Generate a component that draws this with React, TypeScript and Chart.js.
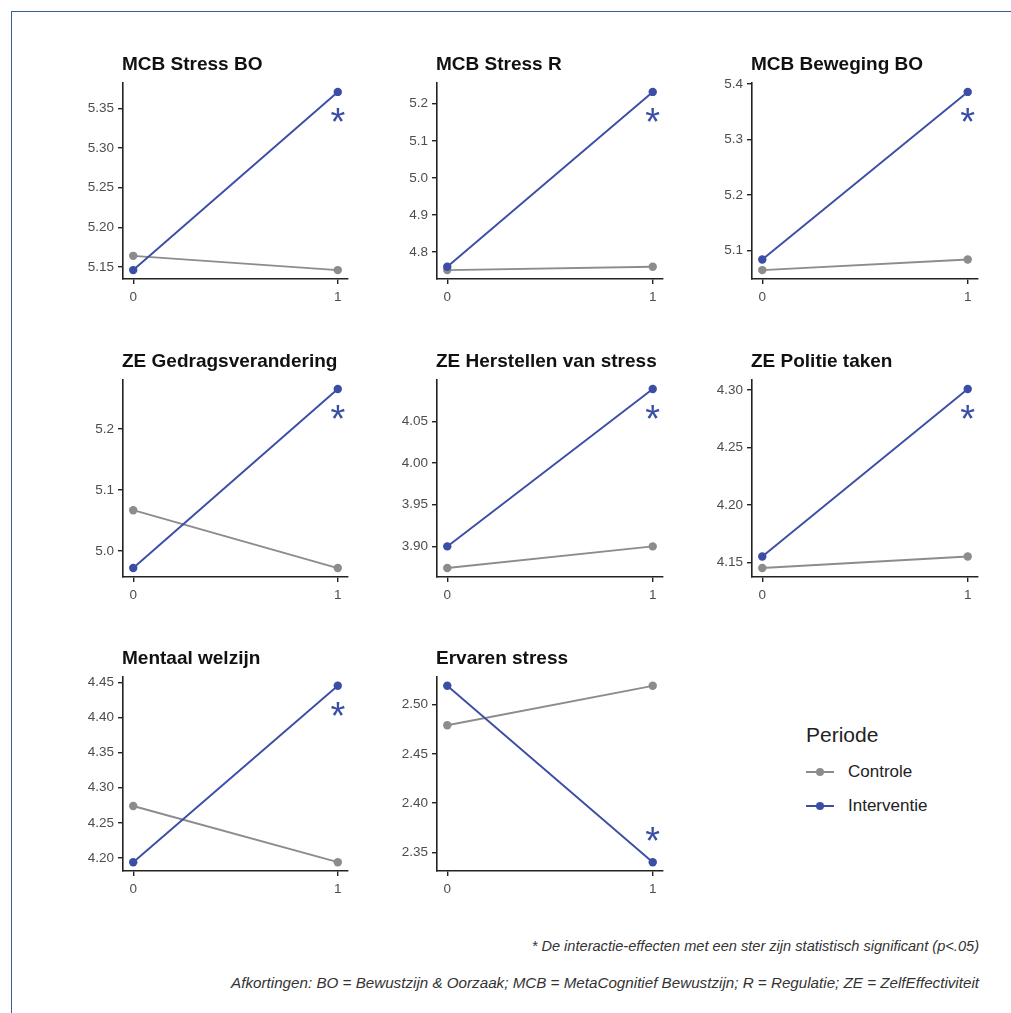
import React, { useEffect, useRef } from "react";
import { Chart, registerables } from "chart.js";

Chart.register(...registerables);

// ---------- data ----------
const panelTitles = [
  "MCB Stress BO",
  "MCB Stress R",
  "MCB Beweging BO",
  "ZE Gedragsverandering",
  "ZE Herstellen van stress",
  "ZE Politie taken",
  "Mentaal welzijn",
  "Ervaren stress",
];
const timePoints = [0, 1];
const controleValues = [
  [5.164, 5.146],
  [4.751, 4.76],
  [5.065, 5.084],
  [5.067, 4.972],
  [3.874, 3.9],
  [4.145, 4.155],
  [4.274, 4.194],
  [2.479, 2.519],
];
const interventieValues = [
  [5.146, 5.371],
  [4.76, 5.232],
  [5.084, 5.386],
  [4.972, 5.266],
  [3.9, 4.089],
  [4.155, 4.301],
  [4.194, 4.445],
  [2.519, 2.34],
];
const yTickValues = [
  [5.15, 5.2, 5.25, 5.3, 5.35],
  [4.8, 4.9, 5.0, 5.1, 5.2],
  [5.1, 5.2, 5.3, 5.4],
  [5.0, 5.1, 5.2],
  [3.9, 3.95, 4.0, 4.05],
  [4.15, 4.2, 4.25, 4.3],
  [4.2, 4.25, 4.3, 4.35, 4.4, 4.45],
  [2.35, 2.4, 2.45, 2.5],
];
const yTickDecimals = [2, 1, 1, 1, 2, 2, 2, 2];
const significant = [true, true, true, true, true, true, true, true];
const starSide = ["below", "below", "below", "below", "below", "below", "below", "above"];
const seriesNames = ["Controle", "Interventie"];
const legendTitle = "Periode";
const footnotes = [
  "* De interactie-effecten met een ster zijn statistisch significant (p<.05)",
  "Afkortingen: BO = Bewustzijn & Oorzaak; MCB = MetaCognitief Bewustzijn; R = Regulatie; ZE = ZelfEffectiviteit",
];

// ---------- style / layout ----------
const FONT = '"Liberation Sans", Arial, Helvetica, sans-serif';
const GREY = "#8c8c8c";
const BLUE = "#3b4ea6";
const AXIS = "#222";
const TICK_TEXT = "#4d4d4d";
const colAxisX = [123, 437, 752];
const colPlotW = [225, 226, 226];
const rowAxisTop = [83, 380, 677];
const rowPlotH = [196, 197, 194];
const Y_AXIS_W = 60;
const RIGHT_PAD = 10;
const TITLE_SPACE = 45;
const X_AXIS_H = 30;

function Panel({ idx }: { idx: number }) {
  const ref = useRef<HTMLCanvasElement>(null);
  const row = Math.floor(idx / 3);
  const col = idx % 3;
  const w = Y_AXIS_W + colPlotW[col] + RIGHT_PAD;
  const h = TITLE_SPACE + rowPlotH[row] + X_AXIS_H;

  useEffect(() => {
    const all = [...controleValues[idx], ...interventieValues[idx]];
    const lo = Math.min(...all);
    const hi = Math.max(...all);
    const pad = (hi - lo) * 0.05;

    const decor = {
      id: "decor" + idx,
      afterDatasetsDraw(chart: any) {
        const { ctx, chartArea, scales } = chart;
        ctx.save();
        ctx.fillStyle = "#111";
        ctx.font = `bold 19px ${FONT}`;
        ctx.textAlign = "left";
        ctx.textBaseline = "alphabetic";
        ctx.fillText(panelTitles[idx], chartArea.left - 1, chartArea.top - 13);
        if (significant[idx]) {
          const x = scales.x.getPixelForValue(timePoints[1]);
          const py = scales.y.getPixelForValue(interventieValues[idx][1]);
          const target = starSide[idx] === "below" ? py + 23 : py - 28;
          ctx.font = `38px ${FONT}`;
          ctx.fillStyle = BLUE;
          ctx.textAlign = "center";
          const m = ctx.measureText("*");
          const y = target - (m.actualBoundingBoxDescent - m.actualBoundingBoxAscent) / 2;
          ctx.fillText("*", x, y);
        }
        ctx.restore();
      },
    };

    const axisCommon = {
      grid: {
        display: true,
        drawOnChartArea: false,
        drawTicks: true,
        tickLength: 5,
        color: AXIS,
        lineWidth: 1.4,
      },
      border: { display: true, color: AXIS, width: 1.6 },
    };

    const chart = new Chart(ref.current as HTMLCanvasElement, {
      type: "line",
      data: {
        datasets: [
          {
            label: seriesNames[0],
            data: timePoints.map((x, k) => ({ x, y: controleValues[idx][k] })),
            borderColor: GREY,
            backgroundColor: GREY,
            pointBackgroundColor: GREY,
            pointBorderWidth: 0,
            pointRadius: 4.2,
            borderWidth: 1.9,
            order: 2,
          },
          {
            label: seriesNames[1],
            data: timePoints.map((x, k) => ({ x, y: interventieValues[idx][k] })),
            borderColor: BLUE,
            backgroundColor: BLUE,
            pointBackgroundColor: BLUE,
            pointBorderWidth: 0,
            pointRadius: 4.2,
            borderWidth: 1.9,
            order: 1,
          },
        ],
      },
      options: {
        animation: false,
        responsive: false,
        devicePixelRatio: 1,
        layout: { padding: { top: TITLE_SPACE, right: RIGHT_PAD, left: 0, bottom: 0 } },
        plugins: {
          legend: { display: false },
          tooltip: { enabled: false },
          title: { display: false },
        },
        scales: {
          x: {
            type: "linear",
            min: -0.05,
            max: 1.05,
            afterBuildTicks: (s: any) => {
              s.ticks = timePoints.map((v) => ({ value: v }));
            },
            afterFit: (s: any) => {
              s.height = X_AXIS_H;
            },
            ticks: {
              font: { family: FONT, size: 13.5 },
              color: TICK_TEXT,
              padding: 5,
              maxRotation: 0,
              autoSkip: false,
              callback: (v: any) => String(v),
            },
            ...axisCommon,
          },
          y: {
            type: "linear",
            min: lo - pad,
            max: hi + pad,
            afterBuildTicks: (s: any) => {
              s.ticks = yTickValues[idx].map((v) => ({ value: v }));
            },
            afterFit: (s: any) => {
              s.width = Y_AXIS_W;
            },
            ticks: {
              font: { family: FONT, size: 13.5 },
              color: TICK_TEXT,
              padding: 4,
              autoSkip: false,
              callback: (v: any) => Number(v).toFixed(yTickDecimals[idx]),
            },
            ...axisCommon,
          },
        },
      },
      plugins: [decor],
    } as any);
    return () => chart.destroy();
  }, [idx]);

  return (
    <canvas
      ref={ref}
      width={w}
      height={h}
      style={{
        position: "absolute",
        left: colAxisX[col] - Y_AXIS_W,
        top: rowAxisTop[row] - TITLE_SPACE,
        width: w,
        height: h,
      }}
    />
  );
}

function LegendKey({ color, top }: { color: string; top: number }) {
  return (
    <>
      <div style={{ position: "absolute", left: 806, top: top - 1, width: 28, height: 2, background: color }} />
      <div
        style={{
          position: "absolute",
          left: 820 - 4,
          top: top - 4,
          width: 8,
          height: 8,
          borderRadius: "50%",
          background: color,
        }}
      />
    </>
  );
}

const footStyle: React.CSSProperties = {
  position: "absolute",
  right: 32,
  lineHeight: "18px",
  fontStyle: "italic",
  color: "#333",
  whiteSpace: "nowrap",
};

export default function App() {
  return (
    <div
      style={{
        position: "absolute",
        left: 0,
        top: 0,
        width: 1011,
        height: 1013,
        overflow: "hidden",
        background: "#fff",
        fontFamily: FONT,
      }}
    >
      <div
        style={{
          position: "absolute",
          left: 11,
          top: 11,
          width: 1200,
          height: 1200,
          borderLeft: "1.5px solid #3d5a99",
          borderTop: "1.5px solid #3d5a99",
        }}
      />
      {panelTitles.map((_, i) => (
        <Panel key={i} idx={i} />
      ))}
      <div style={{ position: "absolute", left: 806, top: 724, fontSize: 21, lineHeight: "22px", color: "#222" }}>
        {legendTitle}
      </div>
      <LegendKey color={GREY} top={772} />
      <div style={{ position: "absolute", left: 848, top: 762, fontSize: 17, lineHeight: "20px", color: "#222" }}>
        {seriesNames[0]}
      </div>
      <LegendKey color={BLUE} top={806} />
      <div style={{ position: "absolute", left: 848, top: 796, fontSize: 17, lineHeight: "20px", color: "#222" }}>
        {seriesNames[1]}
      </div>
      <div style={{ ...footStyle, top: 937, fontSize: 14.6 }}>{footnotes[0]}</div>
      <div style={{ ...footStyle, top: 974, fontSize: 15.2 }}>{footnotes[1]}</div>
    </div>
  );
}
